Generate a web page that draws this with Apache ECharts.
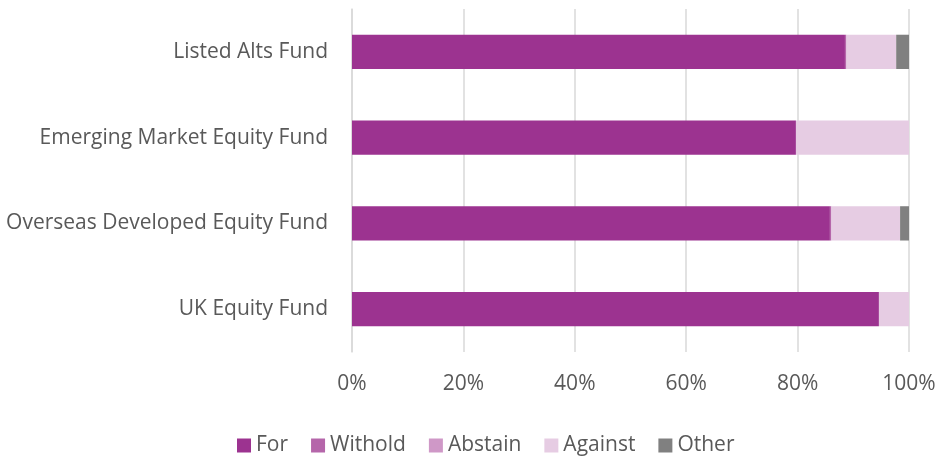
<!DOCTYPE html>
<html>
<head>
<meta charset="utf-8">
<script src="https://cdn.jsdelivr.net/npm/echarts@6/dist/echarts.min.js"></script>
<style>
html, body { margin: 0; padding: 0; background: #fff; }
#chart { width: 939px; height: 458px; }
</style>
</head>
<body>
<div id="chart"></div>
<script>
var funds = ['UK Equity Fund', 'Overseas Developed Equity Fund', 'Emerging Market Equity Fund', 'Listed Alts Fund'];
var forVotes = [94.6, 85.8, 79.7, 88.5];
var withold = [0, 0.2, 0, 0.2];
var abstain = [0, 0.1, 0, 0.1];
var against = [5.4, 12.3, 20.3, 8.9];
var other = [0, 1.6, 0, 2.3];
var xTicks = [0, 20, 40, 60, 80, 100];

var names = ['For', 'Withold', 'Abstain', 'Against', 'Other'];
var values = [forVotes, withold, abstain, against, other];
var colors = ['#9C3390', '#B566AA', '#CF98C7', '#E6CCE3', '#808080'];

var series = [];
for (var i = 0; i < names.length; i++) {
    series.push({
        name: names[i],
        type: 'bar',
        stack: 'votes',
        barWidth: '40%',
        data: values[i],
        itemStyle: { color: colors[i] }
    });
}

var myChart = echarts.init(document.getElementById('chart'));
var option = {
    backgroundColor: '#fff',
    animation: false,
    textStyle: { fontFamily: 'Open Sans' },
    legend: {
        bottom: 2,
        left: 237,
        padding: 0,
        itemWidth: 14,
        itemHeight: 14,
        itemGap: 23,
        icon: 'rect',
        textStyle: { color: '#595959', fontSize: 21, fontFamily: 'Open Sans' },
        data: names
    },
    grid: {
        left: 352,
        right: 30,
        top: 9,
        bottom: 106
    },
    xAxis: {
        type: 'value',
        min: xTicks[0],
        max: xTicks[xTicks.length - 1],
        interval: 20,
        axisLine: { show: false },
        axisTick: { show: false },
        splitLine: { show: true, lineStyle: { color: '#d9d9d9', width: 1.5 } },
        axisLabel: {
            color: '#595959',
            fontSize: 21,
            margin: 22,
            formatter: function (v) { return v + '%'; }
        }
    },
    yAxis: {
        type: 'category',
        data: funds,
        axisLine: { show: true, lineStyle: { color: '#d9d9d9', width: 1.5 } },
        axisTick: { show: false },
        axisLabel: { color: '#595959', fontSize: 21, margin: 24 }
    },
    series: series
};
myChart.setOption(option);
window.onresize = myChart.resize;
</script>
</body>
</html>
